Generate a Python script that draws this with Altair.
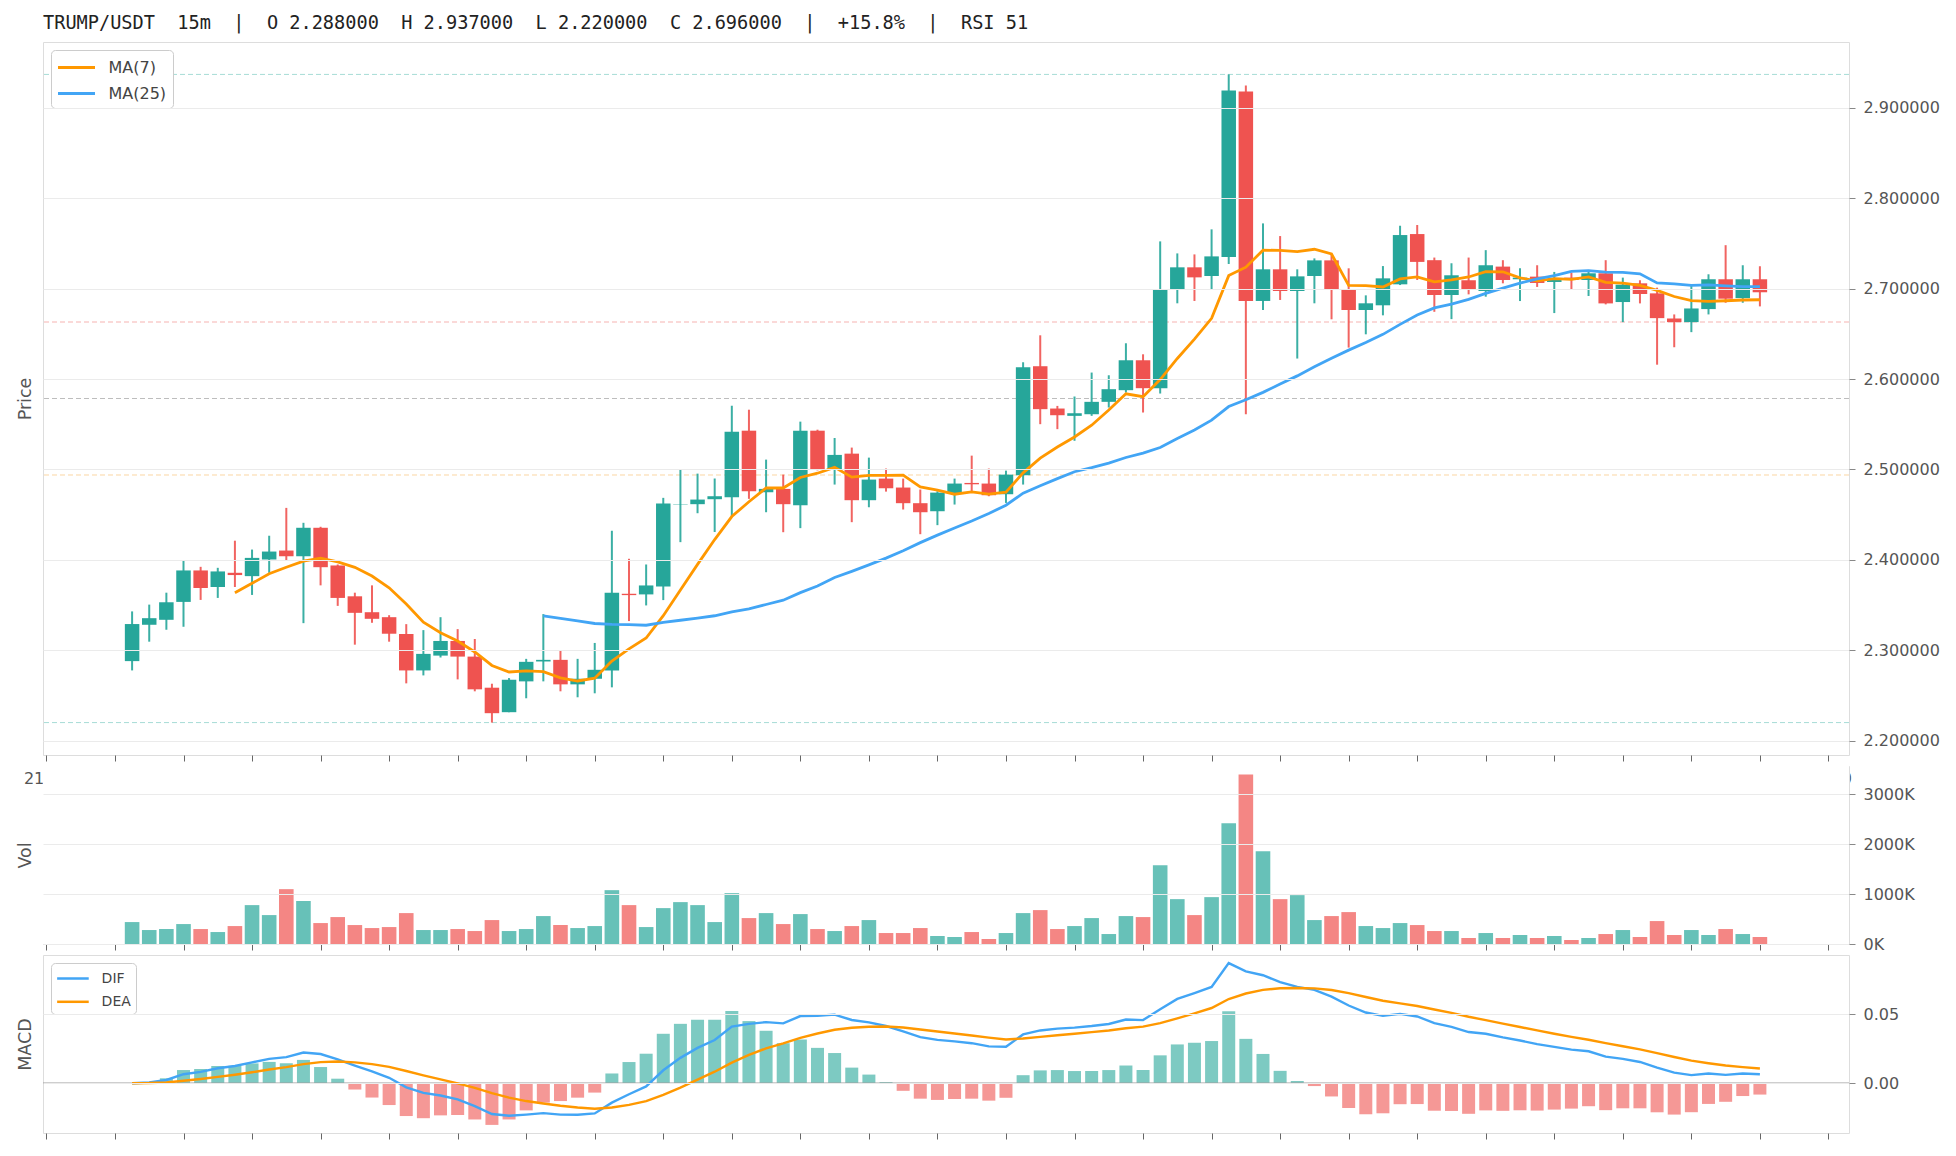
import altair as alt
import pandas as pd
import numpy as np

# ---------------- data ----------------
opens = [2.288, 2.3282, 2.3337, 2.3535, 2.3883, 2.37, 2.3857, 2.382, 2.4004, 2.4103,
         2.404, 2.4355, 2.3938, 2.3597, 2.3421, 2.3366, 2.318, 2.2777, 2.2941, 2.3103,
         2.293, 2.2586, 2.2315, 2.2656, 2.2876, 2.2894, 2.2623, 2.2685, 2.2777, 2.3625,
         2.3618, 2.3706, 2.461, 2.4616, 2.4671, 2.4693, 2.5429, 2.4748, 2.4785, 2.4605,
         2.5429, 2.4999, 2.5175, 2.466, 2.4899, 2.48, 2.4627, 2.4538, 2.4733, 2.4851,
         2.4844, 2.4726, 2.4936, 2.6142, 2.5674, 2.5593, 2.5611, 2.5748, 2.5877, 2.6208,
         2.5899, 2.6985, 2.7236, 2.714, 2.735, 2.918, 2.6864, 2.7214, 2.6974, 2.714,
         2.7313, 2.6993, 2.6764, 2.6816, 2.7048, 2.7604, 2.7315, 2.693, 2.7093, 2.6974,
         2.7244, 2.7104, 2.7133, 2.7074, 2.7122, 2.7096, 2.717, 2.6852, 2.7059, 2.6948,
         2.667, 2.663, 2.6774, 2.7104, 2.6896, 2.7104]
highs = [2.343, 2.3505, 2.3637, 2.3993, 2.3923, 2.3912, 2.4212, 2.4114, 2.4267, 2.4575,
         2.441, 2.4366, 2.3949, 2.3637, 2.3718, 2.3388, 2.3289, 2.3223, 2.3366, 2.3234,
         2.3125, 2.263, 2.2692, 2.2905, 2.34, 2.3, 2.2905, 2.3081, 2.4322, 2.4012,
         2.3949, 2.4686, 2.4999, 2.4954, 2.49, 2.5705, 2.5661, 2.5109, 2.4943, 2.5529,
         2.544, 2.5348, 2.5242, 2.5131, 2.501, 2.4899, 2.4778, 2.4759, 2.4899, 2.5153,
         2.501, 2.4987, 2.6186, 2.6484, 2.5703, 2.5807, 2.6072, 2.6042, 2.6396, 2.6274,
         2.7523, 2.739, 2.7379, 2.7656, 2.937, 2.9247, 2.7722, 2.7582, 2.7214, 2.7335,
         2.7379, 2.7225, 2.6926, 2.725, 2.7696, 2.7704, 2.7344, 2.7281, 2.7344, 2.7426,
         2.7315, 2.7226, 2.7259, 2.7185, 2.7178, 2.7185, 2.7315, 2.7122, 2.7093, 2.7011,
         2.6715, 2.703, 2.7159, 2.7481, 2.7259, 2.7248]
lows = [2.2777, 2.3095, 2.3227, 2.326, 2.3557, 2.3579, 2.37, 2.3612, 2.3857, 2.3996,
        2.33, 2.3718, 2.3491, 2.3062, 2.3304, 2.3095, 2.2634, 2.2722, 2.292, 2.2678,
        2.2546, 2.22, 2.2315, 2.2469, 2.2656, 2.2546, 2.248, 2.2524, 2.259, 2.3323,
        2.3496, 2.3555, 2.4196, 2.4516, 2.4308, 2.4483, 2.4675, 2.4527, 2.4306, 2.4351,
        2.499, 2.4833, 2.4417, 2.4582, 2.4755, 2.4557, 2.4284, 2.4384, 2.4612, 2.4759,
        2.4704, 2.463, 2.4833, 2.5501, 2.5446, 2.5317, 2.5593, 2.5685, 2.5851, 2.563,
        2.584, 2.6838, 2.6864, 2.6985, 2.7273, 2.5612, 2.6764, 2.6875, 2.6227, 2.6838,
        2.6661, 2.6348, 2.6495, 2.6705, 2.704, 2.7096, 2.6744, 2.6663, 2.6937, 2.6911,
        2.7059, 2.6863, 2.7019, 2.673, 2.6993, 2.6919, 2.6826, 2.663, 2.6837, 2.6159,
        2.6352, 2.6519, 2.6715, 2.6844, 2.6844, 2.6804]
closes = [2.329, 2.3355, 2.3531, 2.3883, 2.3689, 2.3872, 2.3832, 2.4022, 2.4092, 2.404,
          2.4355, 2.3919, 2.3579, 2.3414, 2.3348, 2.3183, 2.2777, 2.296, 2.3103, 2.293,
          2.2568, 2.2304, 2.2674, 2.2872, 2.2894, 2.2623, 2.2685, 2.2784, 2.3637, 2.361,
          2.3717, 2.4623, 2.4614, 2.4667, 2.4704, 2.5418, 2.4759, 2.4785, 2.4616, 2.5429,
          2.4999, 2.5161, 2.466, 2.4888, 2.4792, 2.4627, 2.4527, 2.4744, 2.4844, 2.4836,
          2.4715, 2.4943, 2.613, 2.5667, 2.56, 2.5622, 2.5748, 2.5888, 2.6208, 2.5899,
          2.6993, 2.7236, 2.7125, 2.7357, 2.9192, 2.6864, 2.7214, 2.6974, 2.7136, 2.7313,
          2.6993, 2.6764, 2.6838, 2.7114, 2.7593, 2.7296, 2.693, 2.7148, 2.6985, 2.7259,
          2.7096, 2.7122, 2.7063, 2.7104, 2.7096, 2.717, 2.6837, 2.7044, 2.6941, 2.6674,
          2.663, 2.6781, 2.7104, 2.6889, 2.7104, 2.696]
volumes_k = [440, 280, 300, 400, 300, 240, 360, 780, 580, 1100,
             860, 420, 540, 380, 320, 340, 620, 280, 280, 300,
             260, 480, 260, 300, 560, 380, 320, 360, 1080, 780,
             340, 720, 840, 780, 440, 1020, 520, 620, 400, 600,
             300, 260, 360, 480, 220, 220, 320, 160, 140, 240,
             100, 220, 620, 680, 300, 360, 520, 200, 560, 540,
             1580, 900, 580, 940, 2420, 3400, 1860, 900, 980, 480,
             560, 640, 360, 320, 420, 380, 260, 260, 120, 220,
             120, 180, 120, 160, 80, 120, 200, 280, 140, 460,
             180, 280, 180, 300, 200, 140]

# hourly x tick labels of the price panel (mostly hidden behind the volume panel)
hour_labels = ["21:00", "22:00", "23:00", "00:00", "01:00", "02:00", "03:00", "04:00",
               "05:00", "06:00", "07:00", "08:00", "09:00", "10:00", "11:00", "12:00",
               "13:00", "14:00", "15:00", "16:00", "17:00", "18:00", "19:00", "20:00",
               "21:00", "22:00", "23:00"]
price_ticks = [2.2, 2.3, 2.4, 2.5, 2.6, 2.7, 2.8, 2.9]
vol_ticks = [0, 1000, 2000, 3000]
macd_ticks = [0.0, 0.05]
fib_ratios = [0.0, 0.382, 0.5, 0.618, 1.0]
fib_colors = ["#a6dcd6", "#fbd7a3", "#bdbdbd", "#f6b3b1", "#a6dcd6"]

TITLE = ("TRUMP/USDT\u00a0\u00a015m\u00a0\u00a0|\u00a0\u00a0O 2.288000\u00a0\u00a0H 2.937000"
         "\u00a0\u00a0L 2.220000\u00a0\u00a0C 2.696000\u00a0\u00a0|\u00a0\u00a0+15.8%"
         "\u00a0\u00a0|\u00a0\u00a0RSI 51")

UP, DOWN = "#26a69a", "#ef5350"
ORANGE, BLUE = "#ff9800", "#42a5f5"

# ---------------- derived tables ----------------
n = len(closes)
df = pd.DataFrame({"i": np.arange(n), "open": opens, "high": highs, "low": lows,
                   "close": closes, "vol": volumes_k})
c = df["close"]
df["ma7"] = c.rolling(7).mean()
df["ma25"] = c.rolling(25).mean()
ema12 = c.ewm(span=12, adjust=False).mean()
ema26 = c.ewm(span=26, adjust=False).mean()
df["dif"] = ema12 - ema26
df["dea"] = df["dif"].ewm(span=9, adjust=False).mean()
df["hist"] = 2 * (df["dif"] - df["dea"])

ma_df = pd.concat([
    pd.DataFrame({"i": df["i"], "series": "MA(7)", "val": df["ma7"]}),
    pd.DataFrame({"i": df["i"], "series": "MA(25)", "val": df["ma25"]}),
]).dropna()
macd_lines = pd.concat([
    pd.DataFrame({"i": df["i"], "series": "DIF", "val": df["dif"]}),
    pd.DataFrame({"i": df["i"], "series": "DEA", "val": df["dea"]}),
])

hi, lo = max(highs), min(lows)
rng = hi - lo
price_dom = [lo - 0.05 * rng, hi + 0.05 * rng]
mvals = pd.concat([df["dif"], df["dea"], df["hist"]])
mrng = mvals.max() - mvals.min()
macd_dom = [mvals.min() - 0.05 * mrng, mvals.max() + 0.05 * mrng]
vol_dom = [0, max(volumes_k) * 1.05]

# ---------------- layout constants ----------------
W = 1806
H_MAIN, H_VOL, H_MACD = 713, 178, 178
FONT = "DejaVu Sans"

tick_vals = [-5 + 4 * k for k in range(len(hour_labels))]
label_arr = "[" + ",".join("'%s'" % s for s in hour_labels) + "]"
xscale = alt.Scale(domain=[-5.2, 100.2], nice=False, zero=False, padding=0)

x_axis_main = alt.Axis(values=tick_vals, labelExpr=label_arr + "[round((datum.value + 5) / 4)]",
                       grid=False, domain=False, tickSize=6, tickColor="#666",
                       labelFontSize=16, labelColor="#555", labelFont=FONT, labelPadding=9,
                       labelFlush=False, labelOverlap=False, title=None)
x_axis_plain = alt.Axis(values=tick_vals, labels=False, grid=False, domain=False,
                        tickSize=6, tickColor="#666", title=None)


def y_axis(title, h, values, **kw):
    return alt.Axis(orient="right", values=values, grid=True, gridColor="#ebebeb",
                    domain=False, tickSize=6, tickColor="#888", labelFontSize=16,
                    labelColor="#555", labelFont=FONT, labelPadding=8,
                    title=title, titleFontSize=17.5, titleColor="#555", titleFont=FONT,
                    titleFontWeight="normal", titleAngle=270, titleX=-(W + 18), titleY=h / 2,
                    titleAlign="center", titleBaseline="middle", zindex=1, **kw)


# ---------------- main price panel ----------------
p_scale = alt.Scale(domain=price_dom, nice=False, zero=False)
p_axis = y_axis("Price", H_MAIN, price_ticks, format=".6f")
Xm = alt.X("i:Q", scale=xscale, axis=x_axis_main)
base = alt.Chart(df)
UPF = "datum.close >= datum.open"
DNF = "datum.close < datum.open"

layers = []
for r, col in zip(fib_ratios, fib_colors):
    layers.append(
        alt.Chart(pd.DataFrame({"price": [lo + r * rng]}))
        .mark_rule(color=col, strokeDash=[5, 3], strokeWidth=1)
        .encode(y=alt.Y("price:Q", scale=p_scale, axis=p_axis))
    )

for filt, col in [(UPF, UP), (DNF, DOWN)]:
    layers.append(base.transform_filter(filt).mark_rule(color=col, strokeWidth=2, opacity=0.9)
                  .encode(x=Xm, y=alt.Y("low:Q", scale=p_scale, axis=p_axis), y2="high:Q"))
    layers.append(base.transform_filter(filt).mark_bar(color=col, width=14.5)
                  .encode(x=Xm, y=alt.Y("open:Q", scale=p_scale, axis=p_axis), y2="close:Q"))

layers.append(alt.Chart(ma_df).mark_line(strokeWidth=2.8).encode(
    x=Xm,
    y=alt.Y("val:Q", scale=p_scale, axis=p_axis),
    color=alt.Color("series:N", scale=alt.Scale(domain=["MA(7)", "MA(25)"], range=[ORANGE, BLUE]),
                    legend=alt.Legend(title=None, orient="top-left", offset=8, fillColor="white",
                                      strokeColor="#cccccc", cornerRadius=4, padding=6,
                                      labelFontSize=16, labelColor="#444", labelFont=FONT,
                                      symbolType="M-1.05,0L2.65,0", symbolSize=400,
                                      symbolStrokeWidth=3, labelOffset=28.5, rowPadding=6)),
))
main = alt.layer(*layers).properties(width=W, height=H_MAIN)

# ---------------- volume panel ----------------
v_scale = alt.Scale(domain=vol_dom, nice=False)
v_axis = y_axis("Vol", H_VOL, vol_ticks, labelExpr="datum.value + 'K'")
Xp = alt.X("i:Q", scale=xscale, axis=x_axis_plain)
# opaque panel background, which hides the price panel's hour labels as in the reference
vol_layers = [alt.Chart(pd.DataFrame({"bg": [0]})).mark_rect(color="white").encode(
    x=alt.value(0), x2=alt.value(W), y=alt.value(0), y2=alt.value(H_VOL))]
for filt, col in [(UPF, UP), (DNF, DOWN)]:
    vol_layers.append(base.transform_filter(filt).mark_bar(color=col, width=14.6, opacity=0.7)
                      .encode(x=Xp, y=alt.Y("vol:Q", scale=v_scale, axis=v_axis)))
vol = alt.layer(*vol_layers).properties(width=W, height=H_VOL)

# ---------------- MACD panel ----------------
m_scale = alt.Scale(domain=macd_dom, nice=False, zero=False)
m_axis = y_axis("MACD", H_MACD, macd_ticks, format=".2f")
macd_layers = []
for filt, col in [("datum.hist >= 0", UP), ("datum.hist < 0", DOWN)]:
    macd_layers.append(base.transform_filter(filt).mark_bar(color=col, width=13, opacity=0.6)
                       .encode(x=Xp, y=alt.Y("hist:Q", scale=m_scale, axis=m_axis)))
macd_layers.append(alt.Chart(pd.DataFrame({"z": [0.0]})).mark_rule(color="#9e9e9e", strokeWidth=1.2)
                   .encode(y=alt.Y("z:Q", scale=m_scale, axis=m_axis)))
macd_layers.append(alt.Chart(macd_lines).mark_line(strokeWidth=2.4).encode(
    x=Xp,
    y=alt.Y("val:Q", scale=m_scale, axis=m_axis),
    color=alt.Color("series:N", scale=alt.Scale(domain=["DIF", "DEA"], range=[BLUE, ORANGE]),
                    legend=alt.Legend(title=None, orient="top-left", offset=8, fillColor="white",
                                      strokeColor="#cccccc", cornerRadius=4, padding=5,
                                      labelFontSize=14, labelColor="#444", labelFont=FONT,
                                      symbolType="M-1.04,0L2.47,0", symbolSize=324,
                                      symbolStrokeWidth=2.5, labelOffset=24.6, rowPadding=5.3)),
))
macd = alt.layer(*macd_layers).properties(width=W, height=H_MACD)

chart = (
    alt.vconcat(main, vol, macd, spacing=11, bounds="flush")
    .resolve_scale(color="independent")
    .properties(
        title=alt.TitleParams(text=TITLE, anchor="start", frame="group", font="DejaVu Sans Mono",
                              fontSize=18.6, fontWeight="normal", color="#222", offset=9),
        padding={"left": 7, "top": 5, "right": 5, "bottom": 5},
    )
    .configure_view(stroke="#cccccc", strokeWidth=1, fill="white")
    .configure(font=FONT)
)

chart.save("out.html", embed_options={"renderer": "svg", "actions": False})
